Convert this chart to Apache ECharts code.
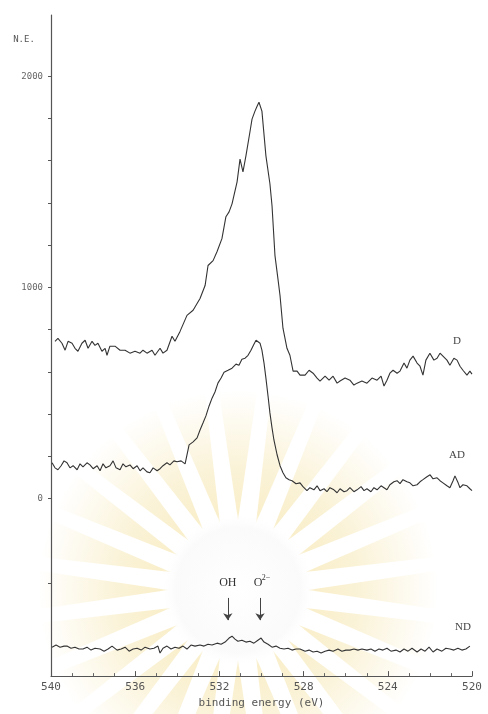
<!DOCTYPE html>
<html><head><meta charset="utf-8">
<script src="https://cdn.jsdelivr.net/npm/echarts@6/dist/echarts.min.js"></script>
<style>html,body{margin:0;padding:0;background:#fff}#c{width:488px;height:714px}</style>
</head><body><div id="c"></div>
<script>
// Binding energy (eV) and counts for each spectrum
const energyD = [539.81,539.67,539.48,539.33,539.19,539.0,538.86,538.72,538.53,538.38,538.24,538.05,537.91,537.77,537.58,537.43,537.34,537.2,536.96,536.72,536.48,536.25,536.01,535.77,535.63,535.44,535.2,535.06,534.82,534.68,534.49,534.25,534.11,533.87,533.54,533.25,532.92,532.68,532.54,532.3,532.11,531.88,531.69,531.54,531.4,531.16,531.02,530.88,530.74,530.55,530.45,530.31,530.21,530.12,529.98,529.79,529.6,529.5,529.36,529.22,529.12,528.98,528.79,528.65,528.5,528.31,528.17,527.93,527.74,527.55,527.36,527.22,526.98,526.79,526.6,526.41,526.27,526.03,525.8,525.61,525.46,525.23,524.99,524.75,524.51,524.32,524.18,524.04,523.9,523.75,523.56,523.42,523.23,523.09,522.95,522.8,522.61,522.47,522.33,522.19,522.0,521.81,521.66,521.52,521.38,521.19,521.05,520.86,520.71,520.57,520.43,520.24,520.1,520.0];
const countsD = [745,759,736,703,745,736,712,698,736,750,712,745,726,736,698,712,679,722,722,703,703,689,698,689,703,689,703,679,712,689,703,769,745,792,868,892,948,1009,1104,1127,1170,1231,1335,1358,1396,1500,1608,1547,1623,1736,1797,1835,1858,1877,1835,1623,1491,1387,1151,1042,962,807,712,679,604,604,585,585,608,594,571,557,580,561,580,547,557,571,561,538,547,557,547,571,561,580,533,561,594,608,594,604,642,618,656,675,642,627,585,656,689,656,665,689,675,656,632,665,656,627,608,585,604,590];

const energyAD = [539.95,539.81,539.67,539.52,539.38,539.24,539.10,538.95,538.76,538.62,538.48,538.29,538.15,538.00,537.81,537.67,537.53,537.39,537.20,537.05,536.91,536.72,536.58,536.44,536.25,536.10,535.91,535.77,535.63,535.44,535.30,535.15,534.96,534.82,534.68,534.49,534.35,534.16,534.01,533.82,533.63,533.54,533.44,533.25,533.06,532.92,532.78,532.64,532.49,532.35,532.21,532.07,531.92,531.78,531.59,531.40,531.21,531.07,530.93,530.78,530.64,530.50,530.36,530.26,530.17,530.07,529.98,529.88,529.79,529.69,529.60,529.50,529.41,529.26,529.12,528.98,528.84,528.69,528.55,528.36,528.17,528.03,527.84,527.70,527.51,527.36,527.22,527.03,526.89,526.75,526.56,526.41,526.27,526.08,525.94,525.80,525.61,525.46,525.27,525.13,524.99,524.80,524.66,524.51,524.32,524.18,524.04,523.90,523.71,523.56,523.42,523.28,523.09,522.95,522.80,522.61,522.47,522.33,522.14,521.99,521.85,521.66,521.52,521.38,521.19,521.05,520.90,520.81,520.66,520.57,520.43,520.24,520.10,520.00];
const countsAD = [170,146,137,156,179,170,146,156,137,165,151,170,160,142,156,132,165,146,156,179,146,137,165,151,160,142,156,132,146,127,123,146,132,142,156,170,160,179,175,179,165,170,255,269,288,325,358,392,439,476,505,547,571,599,608,618,637,632,660,665,679,703,731,750,759,736,703,642,571,486,406,335,278,208,156,123,99,90,85,71,75,57,38,52,42,61,38,47,33,52,42,28,47,33,38,52,33,42,57,38,47,33,52,42,61,52,42,66,80,85,71,90,80,75,61,66,80,90,104,113,94,99,85,75,61,52,85,108,75,52,66,61,47,38];

const energyND = [539.95,539.76,539.57,539.38,539.24,539.05,538.86,538.67,538.48,538.29,538.10,537.91,537.67,537.48,537.29,537.10,536.86,536.67,536.48,536.29,536.10,535.91,535.72,535.53,535.30,535.11,534.92,534.82,534.68,534.49,534.30,534.11,533.92,533.73,533.54,533.35,533.16,532.92,532.73,532.54,532.35,532.11,531.92,531.73,531.54,531.40,531.26,531.12,530.93,530.74,530.55,530.36,530.17,530.02,529.88,529.69,529.50,529.31,529.12,528.93,528.74,528.55,528.36,528.17,527.93,527.74,527.55,527.36,527.17,526.98,526.79,526.60,526.37,526.18,525.99,525.80,525.61,525.42,525.23,524.99,524.80,524.61,524.42,524.23,524.04,523.85,523.61,523.42,523.23,523.04,522.85,522.61,522.42,522.23,522.04,521.85,521.66,521.43,521.24,521.05,520.86,520.67,520.48,520.29,520.10];
const countsND = [-703,-693,-703,-698,-698,-708,-703,-712,-712,-703,-717,-708,-712,-722,-712,-698,-717,-712,-703,-722,-712,-708,-717,-703,-712,-708,-698,-731,-708,-698,-712,-703,-708,-698,-712,-693,-698,-693,-698,-689,-693,-684,-689,-679,-660,-651,-665,-675,-670,-679,-675,-684,-670,-660,-679,-689,-703,-698,-708,-712,-708,-717,-712,-712,-722,-717,-726,-722,-731,-722,-717,-722,-712,-722,-717,-717,-712,-717,-712,-717,-712,-722,-712,-717,-708,-722,-717,-726,-712,-722,-708,-726,-712,-722,-703,-726,-712,-722,-708,-712,-717,-708,-717,-712,-698];

const xTickLabels = ['540','536','532','528','524','520'];
const yLabelValues = [0, 1000, 2000];
const yTickValues = [-400, 0, 200, 400, 600, 800, 1000, 1200, 1400, 1600, 1800, 2000];

// Curve labels and peak markers: [text, energy, counts]
const curveLabels = [['D', 520.71, 745], ['AD', 520.71, 208], ['ND', 520.43, -608]];
const peakMarks = [['OH', 531.6], ['O2-', 530.07]];

const zip = (a, b) => a.map((v, i) => [v, b[i]]);
const ink = '#333';
const chart = echarts.init(document.getElementById('c'), null, {renderer: 'canvas'});

const lineSeries = (name, data) => ({
  name, type: 'line', data, showSymbol: false, animation: false, z: 5,
  lineStyle: {color: ink, width: 1.1}, itemStyle: {color: ink}
});

const option = {
  animation: false,
  backgroundColor: '#fff',
  grid: {left: 51, right: 16, top: 15, bottom: 35, containLabel: false},
  xAxis: {
    type: 'value', min: 520, max: 540, interval: 4, inverse: true,
    axisLine: {onZero: false, lineStyle: {color: '#555', width: 1.2}},
    axisTick: {inside: true, length: 5, lineStyle: {color: '#555'}},
    minorTick: {show: true, splitNumber: 4, length: 3, lineStyle: {color: '#666'}},
    splitLine: {show: false},
    axisLabel: {color: '#555', fontFamily: 'DejaVu Sans Mono', fontSize: 11, margin: 6,
      formatter: v => xTickLabels[Math.round((540 - v) / 4)]},
    name: 'binding energy (eV)', nameLocation: 'middle', nameGap: 20,
    nameTextStyle: {color: '#555', fontFamily: 'DejaVu Sans Mono', fontSize: 11}
  },
  yAxis: {
    type: 'value', min: -840, max: 2290,
    axisLine: {show: true, onZero: false, lineStyle: {color: '#555', width: 1.2}},
    axisTick: {show: true, length: 3, customValues: yTickValues, lineStyle: {color: '#555'}},
    splitLine: {show: false},
    axisLabel: {customValues: yLabelValues, color: '#666', fontFamily: 'DejaVu Sans Mono', fontSize: 9, margin: 8,
      formatter: v => String(v)}
  },
  series: [
    lineSeries('D', zip(energyD, countsD)),
    lineSeries('AD', zip(energyAD, countsAD)),
    Object.assign(lineSeries('ND', zip(energyND, countsND)), {
      markLine: {
        silent: true, symbol: ['none', 'arrow'], symbolSize: 7,
        lineStyle: {color: '#444', width: 1, type: 'solid'}, label: {show: false},
        data: peakMarks.map(p => [{coord: [p[1], -470]}, {coord: [p[1], -575]}])
      }
    })
  ]
};
chart.setOption(option);

const g = [];
// faint library watermark (decorative sunburst behind the plot)
const cx = 238, cy = 590;
for (let a = 0; a < 360; a += 15) {
  const r1 = 70, r2 = 200, w = 5.5;
  const t = a * Math.PI / 180, d = w * Math.PI / 180;
  g.push({type: 'polygon', z: -10, silent: true,
    shape: {points: [[cx + r1 * Math.cos(t), cy + r1 * Math.sin(t)],
                     [cx + r2 * Math.cos(t - d), cy + r2 * Math.sin(t - d)],
                     [cx + r2 * Math.cos(t + d), cy + r2 * Math.sin(t + d)]]},
    style: {fill: new echarts.graphic.RadialGradient(cx, cy, r2, [
      {offset: 0, color: 'rgba(246,228,165,0.85)'}, {offset: 0.6, color: 'rgba(246,230,175,0.5)'}, {offset: 1, color: 'rgba(246,230,175,0)'}], true)}});
}
g.push({type: 'circle', z: -9, silent: true, shape: {cx: cx, cy: cy, r: 78},
  style: {fill: new echarts.graphic.RadialGradient(0.5, 0.5, 0.5, [
    {offset: 0, color: 'rgba(255,255,255,1)'}, {offset: 0.8, color: 'rgba(250,250,250,0.9)'}, {offset: 1, color: 'rgba(255,255,255,0)'}])}});

curveLabels.forEach(([t, e, v]) => {
  const p = chart.convertToPixel({gridIndex: 0}, [e, v]);
  g.push({type: 'text', x: p[0], y: p[1], style: {text: t, fill: '#444', font: '11px "Liberation Serif"', textAlign: 'center', textVerticalAlign: 'middle'}});
});
peakMarks.forEach(([t, e]) => {
  const p = chart.convertToPixel({gridIndex: 0}, [e, -400]);
  if (t === 'O2-') {
    g.push({type: 'text', x: p[0] - 2, y: p[1], style: {text: 'O', fill: '#333', font: '12px "Liberation Serif"', textAlign: 'center', textVerticalAlign: 'middle'}});
    g.push({type: 'text', x: p[0] + 6, y: p[1] - 5, style: {text: '2−', fill: '#333', font: '8px "Liberation Serif"', textAlign: 'center', textVerticalAlign: 'middle'}});
  } else {
    g.push({type: 'text', x: p[0], y: p[1], style: {text: t, fill: '#333', font: '12px "Liberation Serif"', textAlign: 'center', textVerticalAlign: 'middle'}});
  }
});
g.push({type: 'text', x: 24, y: 40, style: {text: 'N.E.', fill: '#555', font: '9px "DejaVu Sans Mono"', textAlign: 'center', textVerticalAlign: 'middle'}});
chart.setOption({graphic: g});
</script>
</body></html>
